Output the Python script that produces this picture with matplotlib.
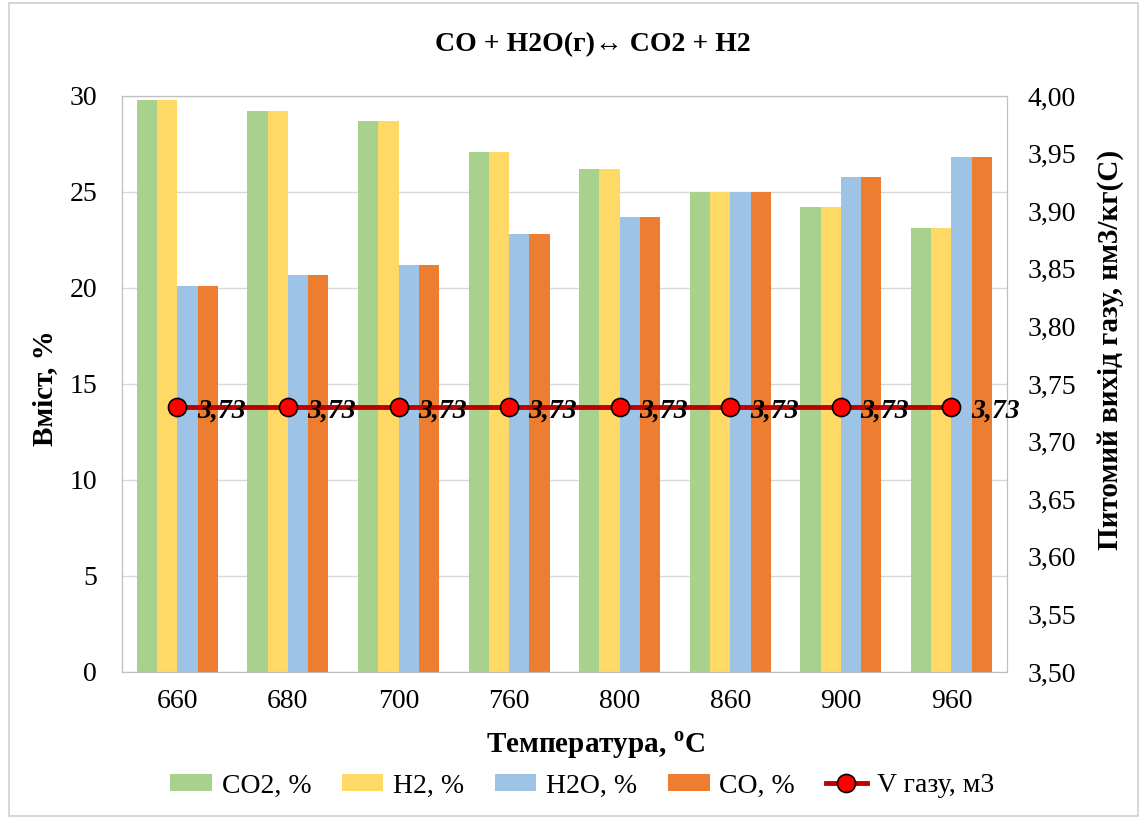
import numpy as np
import matplotlib.pyplot as plt
from matplotlib.patches import Rectangle

plt.rcParams['font.family'] = ['Liberation Serif', 'DejaVu Serif']
plt.rcParams['mathtext.fontset'] = 'custom'
plt.rcParams['mathtext.rm'] = 'Liberation Serif'
plt.rcParams['mathtext.bf'] = 'Liberation Serif:bold'

temps = ['660', '680', '700', '760', '800', '860', '900', '960']
co2 = [29.8, 29.2, 28.7, 27.1, 26.2, 25.0, 24.2, 23.1]
h2 = [29.8, 29.2, 28.7, 27.1, 26.2, 25.0, 24.2, 23.1]
h2o = [20.1, 20.7, 21.2, 22.8, 23.7, 25.0, 25.8, 26.8]
co = [20.1, 20.7, 21.2, 22.8, 23.7, 25.0, 25.8, 26.8]
v_gas = [3.73, 3.73, 3.73, 3.73, 3.73, 3.73, 3.73, 3.73]

fig = plt.figure(figsize=(11.46, 8.19), dpi=100)
ax = fig.add_axes([0.1065, 0.1795, 0.772, 0.7033])
x = np.arange(len(temps))
w = 0.183
cols = ['#a9d18e', '#ffd966', '#9dc3e6', '#ed7d31']
names = ['CO2, %', 'H2, %', 'H2O, %', 'CO, %']
bars = []
for i, (vals, c, n) in enumerate(zip([co2, h2, h2o, co], cols, names)):
    b = ax.bar(x + (i - 1.5) * w, vals, w, color=c, label=n, zorder=2)
    bars.append(b)

ax.set_ylim(0, 30)
ax.set_yticks(range(0, 31, 5))
ax.set_xlim(-0.5, len(temps) - 0.5)
ax.set_xticks(x)
ax.set_xticklabels(temps)
ax.grid(axis='y', color='#d9d9d9', lw=1, zorder=0)
ax.tick_params(length=0, labelsize=20)
ax.tick_params(axis='y', pad=18)
ax.tick_params(axis='x', pad=12)
for s in ax.spines.values():
    s.set_color('#bfbfbf')

ax2 = ax.twinx()
ln, = ax2.plot(x, v_gas, color='#c00000', lw=3.5, marker='o', markersize=13,
               markerfacecolor='#ff0000', markeredgecolor='black', markeredgewidth=1.2,
               label='V газу, м3', zorder=3)
ax2.set_ylim(3.5, 4.0)
ax2.set_yticks(np.arange(3.5, 4.01, 0.05))
ax2.set_yticklabels([f'{v:.2f}'.replace('.', ',') for v in np.arange(3.5, 4.01, 0.05)])
ax2.tick_params(length=0, labelsize=20, pad=15)
for s in ax2.spines.values():
    s.set_color('#bfbfbf')
for xi, v in zip(x, v_gas):
    ax2.annotate(f'{v:.2f}'.replace('.', ','), (xi, v), xytext=(14, -3), textcoords='offset points',
                 fontsize=20, fontweight='bold', fontstyle='italic', va='center', ha='left')

fig.text(45 / 1146, 1 - 388 / 819, 'Вміст, %', rotation=90, ha='center', va='center',
         fontsize=21, fontweight='bold')
fig.text(1110 / 1146, 1 - 350 / 819, 'Питомий вихід газу, нм3/кг(С)', rotation=90,
         ha='center', va='center', fontsize=21, fontweight='bold')
fig.text(0.52, 1 - 745 / 819, r'Температура, $^{\mathbf{o}}$C', ha='center', va='center',
         fontsize=21, fontweight='bold')
fig.text(0.517, 0.945, 'CO + H2O(г)↔ CO2 + H2', ha='center', va='center', fontsize=20,
         fontweight='bold', family=['Liberation Serif', 'DejaVu Sans'])

handles = bars + [ln]
fig.legend(handles, names + ['V газу, м3'], loc='center', bbox_to_anchor=(0.508, 1 - 786 / 819),
           ncol=5, frameon=False, fontsize=20, handlelength=1.5, handleheight=0.55,
           columnspacing=1.1, handletextpad=0.35, borderpad=0)

fig.patches.append(Rectangle((0.008, 0.004), 0.985, 0.992, transform=fig.transFigure,
                             fill=False, edgecolor='#d0d0d0', lw=1.2))
fig.savefig('out.png', dpi=100)
